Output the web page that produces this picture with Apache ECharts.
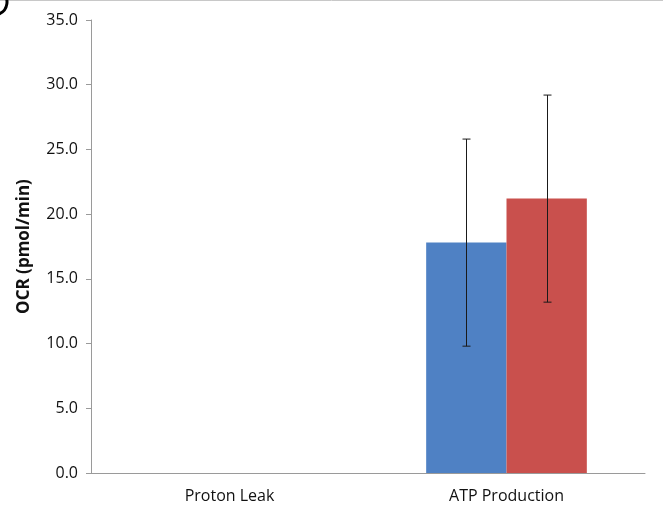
<!DOCTYPE html>
<html>
<head>
<meta charset="utf-8">
<script src="https://cdn.jsdelivr.net/npm/echarts@6/dist/echarts.min.js"></script>
<style>
  html, body { margin: 0; padding: 0; background: #fff; }
  #chart { width: 663px; height: 513px; }
</style>
</head>
<body>
<div id="chart"></div>
<script>
// 数据
const categories = ["Proton Leak", "ATP Production"];
const blueValues = [0, 17.8];
const blueErrors = [0, 8.0];
const redValues = [0, 21.2];
const redErrors = [0, 8.0];
const yTicks = [0, 5, 10, 15, 20, 25, 30, 35];

const chart = echarts.init(document.getElementById("chart"));

const gapRatio = 0.42;

// 误差线，offsetSign: -1 左柱，+1 右柱
function errorSeries(values, errors, offsetSign) {
  return {
    type: "custom",
    z: 5,
    data: values.map((v, i) => [i, v, errors[i]]),
    renderItem(params, api) {
      const idx = api.value(0);
      const val = api.value(1);
      const err = api.value(2);
      if (!err) return null;
      const band = api.size([1, 0])[0];
      const dx = offsetSign * band * (1 - gapRatio) / 4;
      const hi = api.coord([idx, val + err]);
      const lo = api.coord([idx, val - err]);
      const x = Math.round(hi[0] + dx) + 0.5;
      const cap = 4;
      const style = { stroke: "#1a1a1a", lineWidth: 1 };
      return {
        type: "group",
        children: [
          { type: "line", shape: { x1: x, y1: hi[1], x2: x, y2: lo[1] }, style },
          { type: "line", shape: { x1: x - cap, y1: hi[1], x2: x + cap, y2: hi[1] }, style },
          { type: "line", shape: { x1: x - cap, y1: lo[1], x2: x + cap, y2: lo[1] }, style },
        ],
      };
    },
  };
}

const option = {
  backgroundColor: "#fff",
  animation: false,
  textStyle: { fontFamily: "Open Sans" },
  grid: { left: 91, right: 18, top: 20, bottom: 40 },
  xAxis: {
    type: "category",
    data: categories,
    axisLine: { lineStyle: { color: "#9a9a9a" } },
    axisTick: { show: false },
    axisLabel: { color: "#111", fontSize: 16, margin: 15 },
  },
  yAxis: {
    type: "value",
    min: yTicks[0],
    max: yTicks[yTicks.length - 1],
    interval: 5,
    name: "OCR (pmol/min)",
    nameLocation: "middle",
    nameGap: 58,
    nameTextStyle: { color: "#111", fontSize: 17, fontWeight: "bold" },
    axisLine: { show: true, lineStyle: { color: "#9a9a9a" } },
    axisTick: { show: true, length: 5, lineStyle: { color: "#9a9a9a" } },
    axisLabel: {
      color: "#111",
      fontSize: 16,
      margin: 13,
      formatter: (v) => v.toFixed(1),
    },
    splitLine: { show: false },
  },
  series: [
    {
      type: "bar",
      data: blueValues,
      barGap: 0,
      barCategoryGap: gapRatio * 100 + "%",
      itemStyle: { color: "#4f81c4" },
    },
    {
      type: "bar",
      data: redValues,
      barGap: 0,
      barCategoryGap: gapRatio * 100 + "%",
      itemStyle: { color: "#c9504d" },
    },
    errorSeries(blueValues, blueErrors, -1),
    errorSeries(redValues, redErrors, 1),
  ],
  graphic: [
    // 顶部边框线
    {
      type: "line",
      shape: { x1: 0, y1: 0.5, x2: 663, y2: 0.5 },
      style: { stroke: "#c8c8c8", lineWidth: 1 },
    },
    // 左上角的残留括号
    {
      type: "arc",
      shape: { cx: -6, cy: 2, r: 13, startAngle: -Math.PI / 2.2, endAngle: Math.PI / 2.6 },
      style: { stroke: "#000", lineWidth: 3, fill: null },
    },
  ],
};

chart.setOption(option);
</script>
</body>
</html>
